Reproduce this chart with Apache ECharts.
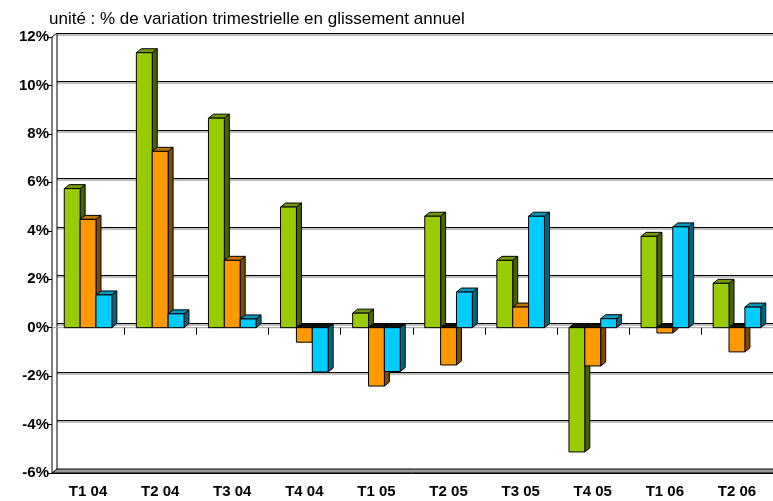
<!DOCTYPE html>
<html>
<head>
<meta charset="utf-8">
<script src="https://cdn.jsdelivr.net/npm/echarts@6/dist/echarts.min.js"></script>
<style>
  html, body { margin: 0; padding: 0; background: #fff; }
  #chart { width: 773px; height: 501px; }
</style>
</head>
<body>
<div id="chart"></div>
<script>
const categories = ['T1 04', 'T2 04', 'T3 04', 'T4 04', 'T1 05', 'T2 05', 'T3 05', 'T4 05', 'T1 06', 'T2 06'];
const greenValues = [5.74, 11.35, 8.65, 4.98, 0.6, 4.6, 2.78, -5.13, 3.77, 1.83];
const orangeValues = [4.47, 7.28, 2.78, -0.6, -2.41, -1.54, 0.85, -1.58, -0.22, -1.0];
const cyanValues = [1.35, 0.57, 0.36, -1.83, -1.81, 1.47, 4.6, 0.37, 4.16, 0.85];
const yMin = -6;
const yMax = 12;
const yStep = 2;

const DX = 5, DY = -4;
const font = 'Liberation Sans, Arial, sans-serif';

// one 3D column: front face, right side, top
function bar3d(face, side, top, slot) {
  return function (params, api) {
    const i = api.value(0);
    const v = api.value(1);
    const w = api.size([1, 0])[0] * 0.22;
    const cx = api.coord([i, 0])[0];
    const x = cx - 1.5 * w + slot * w;
    const y0 = api.coord([i, 0])[1];
    const y1 = api.coord([i, v])[1];
    const yt = Math.min(y0, y1), yb = Math.max(y0, y1);
    const line = { stroke: '#000', lineWidth: 1 };
    return {
      type: 'group',
      children: [
        { type: 'polygon', shape: { points: [[x + w, yt], [x + w + DX, yt + DY], [x + w + DX, yb + DY], [x + w, yb]] },
          style: Object.assign({ fill: side }, line) },
        { type: 'polygon', shape: { points: [[x, yt], [x + DX, yt + DY], [x + w + DX, yt + DY], [x + w, yt]] },
          style: Object.assign({ fill: v < 0 ? '#111' : top }, line) },
        { type: 'rect', shape: { x: x, y: yt, width: w, height: yb - yt },
          style: Object.assign({ fill: face }, line) }
      ]
    };
  };
}

// floor, left wall and the zero-level edge with its ticks
function walls(params, api) {
  const pL = api.coord([0, yMin]);
  const pT = api.coord([0, yMax]);
  const pZ = api.coord([0, 0]);
  const band = api.size([1, 0])[0];
  const x0 = pL[0] - band / 2;
  const x1 = x0 + band * categories.length;
  const yb = pL[1], yt = pT[1], yz = pZ[1];
  const children = [
    { type: 'polygon', shape: { points: [[x0, yb], [x0 + DX, yb + DY], [x1 + DX, yb + DY], [x1, yb]] },
      style: { fill: '#9a9a9a', stroke: '#000', lineWidth: 1 } },
    { type: 'polygon', shape: { points: [[x0, yt], [x0 + DX, yt + DY], [x0 + DX, yb + DY], [x0, yb]] },
      style: { fill: '#fff', stroke: '#000', lineWidth: 1 } },
    { type: 'line', shape: { x1: x0, y1: yz, x2: x1, y2: yz }, style: { stroke: '#a0a0a0', lineWidth: 1 } }
  ];
  for (let k = 1; k <= categories.length; k++) {
    const x = Math.round(x0 + k * band) + 0.5;
    children.push({ type: 'line', shape: { x1: x, y1: yz, x2: x, y2: yz + 7 }, style: { stroke: '#000', lineWidth: 1 } });
  }
  return { type: 'group', children: children };
}

const chart = echarts.init(document.getElementById('chart'));

const toData = arr => arr.map((v, i) => [i, v]);

chart.setOption({
  animation: false,
  title: {
    text: 'unité : % de variation trimestrielle en glissement annuel',
    left: 44,
    top: 6,
    textStyle: { fontFamily: font, fontSize: 17, fontWeight: 'normal', color: '#000' }
  },
  grid: [
    { left: 52, top: 37, width: 729, height: 436 },
    { left: 52 + DX, top: 37 + DY, width: 729, height: 436 }
  ],
  xAxis: [
    {
      gridIndex: 0,
      type: 'category',
      data: categories,
      position: 'bottom',
      axisLine: { onZero: false, lineStyle: { color: '#000', width: 1 } },
      axisTick: { length: 6, lineStyle: { color: '#000' } },
      axisLabel: { fontFamily: font, fontSize: 15, fontWeight: 'bold', color: '#000', margin: 11 }
    },
    {
      gridIndex: 1,
      type: 'category',
      data: categories,
      show: false
    }
  ],
  yAxis: [
    {
      gridIndex: 0,
      type: 'value',
      min: yMin,
      max: yMax,
      interval: yStep,
      axisLine: { show: true, lineStyle: { color: '#000', width: 1 } },
      axisTick: { show: true, length: 5, lineStyle: { color: '#000' } },
      axisLabel: { fontFamily: font, fontSize: 15, fontWeight: 'bold', color: '#000', margin: 3, formatter: '{value}%' },
      splitLine: { show: false }
    },
    {
      gridIndex: 1,
      type: 'value',
      min: yMin,
      max: yMax,
      interval: yStep,
      axisLine: { show: false },
      axisTick: { show: false },
      axisLabel: { show: false },
      splitLine: {
        show: true,
        lineStyle: { color: '#000', width: 1.2, shadowColor: 'rgba(0,0,0,0.5)', shadowOffsetY: 1.5 }
      }
    }
  ],
  series: [
    {
      type: 'custom',
      name: 'walls',
      xAxisIndex: 0,
      yAxisIndex: 0,
      data: [[0, yMin]],
      renderItem: walls,
      silent: true,
      z: 1
    },
    {
      type: 'custom',
      name: 'vert',
      xAxisIndex: 0,
      yAxisIndex: 0,
      data: toData(greenValues),
      encode: { x: 0, y: 1 },
      renderItem: bar3d('#99cc00', '#4a6400', '#739a00', 0),
      z: 3
    },
    {
      type: 'custom',
      name: 'orange',
      xAxisIndex: 0,
      yAxisIndex: 0,
      data: toData(orangeValues),
      encode: { x: 0, y: 1 },
      renderItem: bar3d('#ff9900', '#804d00', '#c07300', 1),
      z: 4
    },
    {
      type: 'custom',
      name: 'cyan',
      xAxisIndex: 0,
      yAxisIndex: 0,
      data: toData(cyanValues),
      encode: { x: 0, y: 1 },
      renderItem: bar3d('#00ccff', '#006680', '#0099c0', 2),
      z: 5
    }
  ]
});
</script>
</body>
</html>
